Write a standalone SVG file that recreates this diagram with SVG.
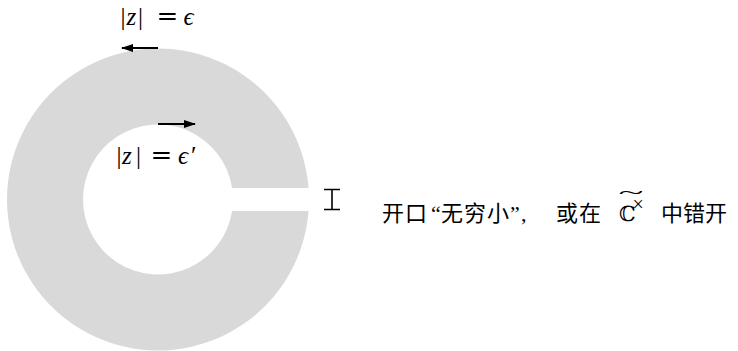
<svg xmlns="http://www.w3.org/2000/svg" width="738" height="351" viewBox="0 0 738 351">
<style>
.math{font-family:"Liberation Serif","DejaVu Serif",serif;font-size:25px;fill:#000}
.it{font-style:italic}
.eq{font-family:"DejaVu Serif",serif;font-size:26px}
.cjk{font-family:"Liberation Serif","Noto Sans CJK SC",serif;font-size:22px;fill:#000}
.arr{stroke:#000;stroke-width:2;fill:none}
</style>
<defs>
<marker id="ah" viewBox="0 0 12 8" refX="11" refY="4" markerWidth="12" markerHeight="8" markerUnits="userSpaceOnUse" orient="auto">
<path d="M0 0 L12 4 L0 8 Z" fill="#000"/>
</marker>
</defs>
<rect width="738" height="351" fill="#fff"/>
<g id="annulus">
<path d="M308.56 188 A151 151 0 1 0 308.56 211 L232.11 211 A75 75 0 1 1 232.11 188 Z" fill="#d9d9d9"/>
</g>
<g id="connectors">
<line class="arr" x1="158" y1="48" x2="122" y2="48" marker-end="url(#ah)"/>
<line class="arr" x1="158" y1="124" x2="195" y2="124" marker-end="url(#ah)"/>
</g>
<g id="label-outer">
<text class="math" y="25"><tspan x="120.5">|</tspan><tspan class="it" x="126.5">z</tspan><tspan x="138">|</tspan><tspan class="eq" x="156.5">=</tspan><tspan class="it" x="183.5">ϵ</tspan></text>
</g>
<g id="label-inner">
<text class="math" y="164"><tspan x="116.5">|</tspan><tspan class="it" x="122">z</tspan><tspan x="136">|</tspan><tspan class="eq" x="150.5">=</tspan><tspan class="it" x="178">ϵ</tspan><tspan x="191">′</tspan></text>
</g>
<g id="gap-marker">
<path d="M324 189.5 H340 M332 189.5 V209.5 M324 209.5 H340" stroke="#000" stroke-width="1.6" fill="none"/>
</g>
<g id="note">
<text class="cjk" y="221"><tspan x="382">开</tspan><tspan x="405">口</tspan><tspan x="431">“</tspan><tspan x="441">无</tspan><tspan x="464">穷</tspan><tspan x="487">小</tspan><tspan x="510">”</tspan><tspan x="521">,</tspan><tspan x="556">或</tspan><tspan x="579">在</tspan></text>
<text class="math" x="619" y="221" style="font-size:21px">ℂ</text>
<text class="math" x="632.5" y="211" style="font-size:20px">×</text>
<text class="math" x="631" y="199" text-anchor="middle" transform="translate(631 199) scale(2.1 0.9) translate(-631 -199)" style="font-size:22px">~</text>
<text class="cjk" y="221"><tspan x="661">中</tspan><tspan x="683">错</tspan><tspan x="705">开</tspan></text>
</g>
</svg>
